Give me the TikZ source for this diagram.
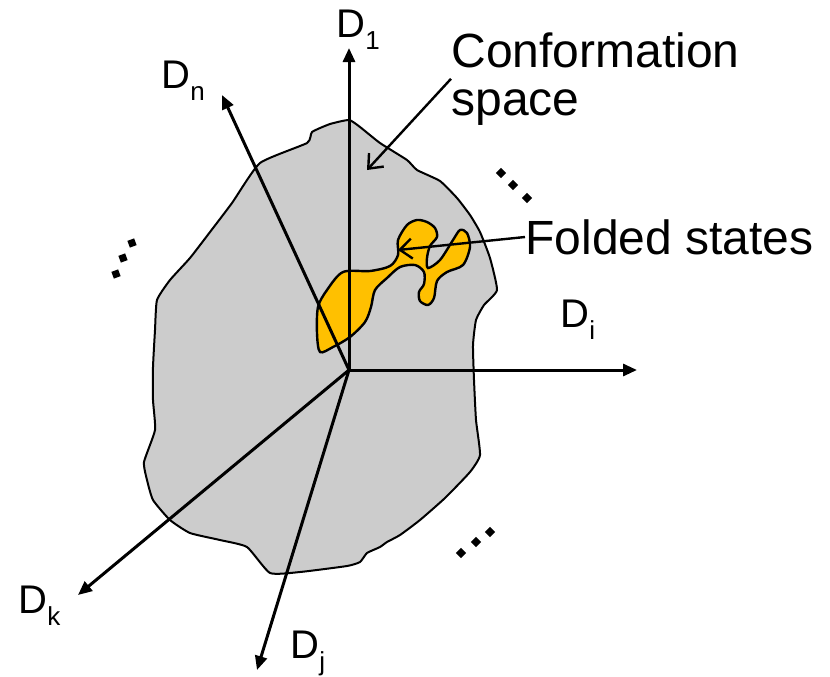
\documentclass[tikz,border=0pt]{standalone}
\usepackage{fontspec}
\setmainfont{Liberation Sans}
\usetikzlibrary{arrows.meta}

\definecolor{spacegray}{RGB}{204,204,204}
\definecolor{foldgold}{RGB}{255,192,0}

\newcommand{\dlab}[1]{D\raisebox{-0.3em}{\fontsize{13}{13}\selectfont #1}}

\begin{document}
\begin{tikzpicture}[
  x=0.5pt, y=-0.5pt,
  axis/.style={line width=1.5pt, -{Triangle[length=7pt,width=6pt]}},
  pointer/.style={line width=1.2pt, -{Straight Barb[length=6pt,width=10pt]}},
  axlab/.style={anchor=base west, inner sep=0pt, font=\fontsize{20}{24}\selectfont},
  callout/.style={inner sep=0pt, align=left, font=\fontsize{24}{24}\selectfont},
  dotmark/.style={fill, inner sep=0pt, minimum size=3.6pt},
]
  \useasboundingbox (0,0) rectangle (830,676);

  % -- conformation space --
  \draw[line width=1pt, fill=spacegray] plot[smooth cycle, tension=0.3] coordinates {
    (349,120) (360,127) (380,143) (407,160) (417,170) (440,181) (457,198)
    (470,215) (480,232) (490,258) (497,290) (484,305) (476,320) (473,345)
    (474,380) (476,420) (480,455) (470,472) (445,498) (420,520) (400,535)
    (387,542) (380,547) (367,553) (360,562) (347,566) (300,572) (270,573)
    (247,547) (220,540) (190,533) (170,520) (153,500) (147,480) (144,462)
    (155,430) (153,400) (153,367) (155,330) (157,300) (170,280) (190,258)
    (210,232) (232,203) (260,163) (307,143) (312,132) (330,124)};

  % -- folded states --
  \draw[line width=1.2pt, fill=foldgold] plot[smooth cycle, tension=0.5] coordinates {
    (320,352) (317,333) (318,307) (327,290) (343,272) (370,271) (390,266)
    (398,255) (398,240) (407,225) (417,220) (427,222) (435,228) (437,237)
    (430,246) (427,258) (428,268) (440,260) (453,240) (460,230) (467,233)
    (470,247) (463,265) (447,272) (437,281) (434,298) (428,305) (420,301)
    (419,292) (424,284) (424,272) (415,265) (400,267) (387,278) (375,290)
    (371,307) (365,322) (350,337) (333,347)};

  % -- axes --
  \coordinate (O) at (349,370);
  \coordinate (d1) at (349,48);
  \coordinate (dn) at (222,95);
  \coordinate (di) at (637,370);
  \coordinate (dk) at (78,595);
  \coordinate (dj) at (257,670);

  \draw[axis] (O) -- (d1);
  \draw[axis] (O) -- (dn);
  \draw[axis] (O) -- (di);
  \draw[axis] (O) -- (dk);
  \draw[axis] (O) -- (dj);

  \node[axlab] (lab1) at (336,37) {\dlab{1}};
  \node[axlab] (labn) at (161,88) {\dlab{n}};
  \node[axlab] (labi) at (560,327) {\dlab{i}};
  \node[axlab] (labk) at (18,613) {\dlab{k}};
  \node[axlab] (labj) at (290,658) {\dlab{j}};

  % -- callouts --
  \node[callout, anchor=north west] (conf) at (451,32) {Conformation\\space};
  \node[callout, anchor=west] (fold) at (525,237) {Folded states};
  \coordinate (conftip) at (367,170);
  \coordinate (foldtip) at (398,250);
  \draw[pointer] (conf.west) -- (conftip);
  \draw[pointer] (fold.west) -- (foldtip);

  % -- more dimensions --
  \foreach \pos in {(132,243),(123,258),(116,274)}
    \node[dotmark, rotate=20] at \pos {};
  \foreach \pos in {(501,173),(513,185),(527,198),(461,553),(476,542),(490,532)}
    \node[dotmark, rotate=45] at \pos {};
\end{tikzpicture}
\end{document}
